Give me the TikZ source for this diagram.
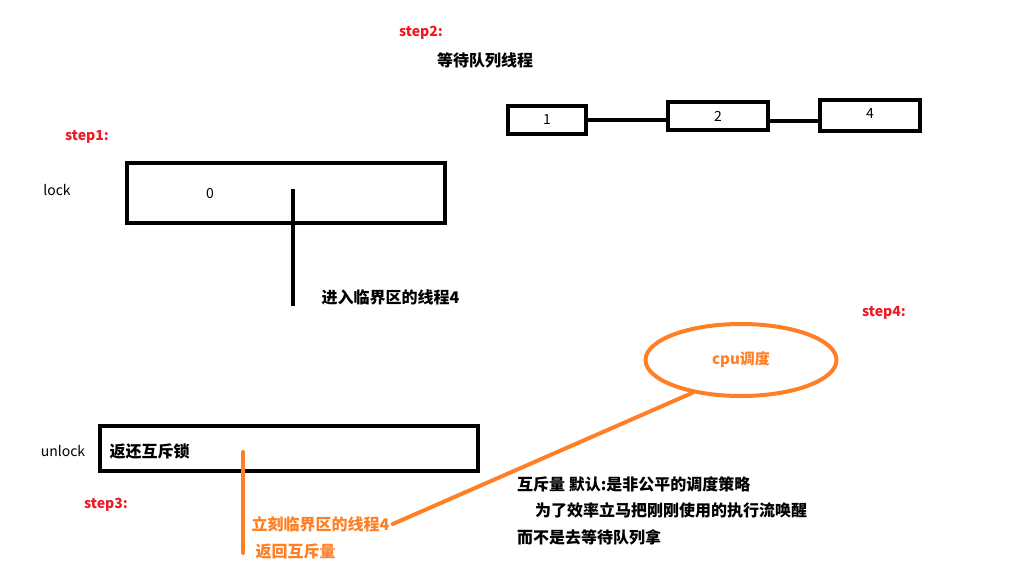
\documentclass[tikz,border=0pt]{standalone}
\usepackage{fontspec}
\setmainfont{Noto Sans CJK SC}
\usetikzlibrary{shapes.geometric}
\definecolor{stepred}{HTML}{ED1C24}
\definecolor{paintorange}{HTML}{FF7F27}
\tikzset{
  qbox/.style={draw, line width=4pt, inner sep=0pt},
  steplabel/.style={text=stepred, font=\bfseries\fontsize{14}{16}\selectfont},
  plain/.style={font=\fontsize{14}{16}\selectfont},
  note/.style={font=\bfseries\fontsize{16}{18}\selectfont},
  onote/.style={note, text=paintorange},
  wire/.style={line width=4pt},
  owire/.style={line width=4pt, paintorange, line cap=round}
}
\begin{document}
\begin{tikzpicture}[x=1pt,y=-1pt]
\useasboundingbox (0,0) rectangle (1011,587);
% step2: waiting queue
\node[steplabel] (s2) at (421,33) {step2:};
\node[note] (queue) at (485,60) {等待队列线程};
\node[qbox, minimum width=78pt, minimum height=28pt] (b1) at (547,120) {\fontsize{14}{16}\selectfont 1};
\node[qbox, minimum width=100pt, minimum height=28pt] (b2) at (718,116) {\fontsize{14}{16}\selectfont 2};
\node[qbox, minimum width=100pt, minimum height=31pt] (b4) at (870,115) {\fontsize{14}{16}\selectfont\raisebox{3pt}{4}};
\draw[wire] (b1.east) -- (b1.east -| b2.west);
\draw[wire, line cap=round] ([yshift=-5pt]b2.east) -- ([yshift=-5pt]b2.east -| b4.west);
% step1: lock
\node[steplabel] (s1) at (87,137) {step1:};
\node[plain] (lock) at (57,190) {lock};
\node[qbox, minimum width=318pt, minimum height=60pt] (lbox) at (286,193) {};
\node[plain] (zero) at (210,194) {0};
\coordinate (in0) at (293,189);
\coordinate (in1) at (293,306);
\draw[wire] (in0) -- (in1);
\node[note, anchor=west] (enter) at (318,297) {进入临界区的线程4};
% step4: cpu
\node[steplabel] (s4) at (884,313) {step4:};
\node[ellipse, draw=paintorange, line width=4pt, minimum width=191pt, minimum height=72pt, text=paintorange, font=\bfseries\fontsize{15}{17}\selectfont] (cpu) at (741,360) {cpu调度};
% step3: unlock
\node[plain] (unlock) at (63,451) {unlock};
\node[qbox, minimum width=378pt, minimum height=45pt] (ubox) at (289,448.5) {};
\node[note, anchor=west] (give) at (106,451) {返还互斥锁};
\node[steplabel] (s3) at (106,505) {step3:};
\coordinate (out0) at (243,452);
\coordinate (out1) at (243,553);
\draw[owire] (out0) -- (out1);
\node[onote, anchor=west] (now) at (248,524) {立刻临界区的线程4};
\node[onote, anchor=west] (back) at (252,551) {返回互斥量};
\draw[owire] (now.east) -- (cpu.214);
% policy note
\node[note, anchor=north west, align=left, inner sep=0pt] (policy) at (517,476) {互斥量 默认:是非公平的调度策略\\[8.5pt]\hspace*{18pt}为了效率立马把刚刚使用的执行流唤醒\\[8.5pt]而不是去等待队列拿};
\end{tikzpicture}
\end{document}
